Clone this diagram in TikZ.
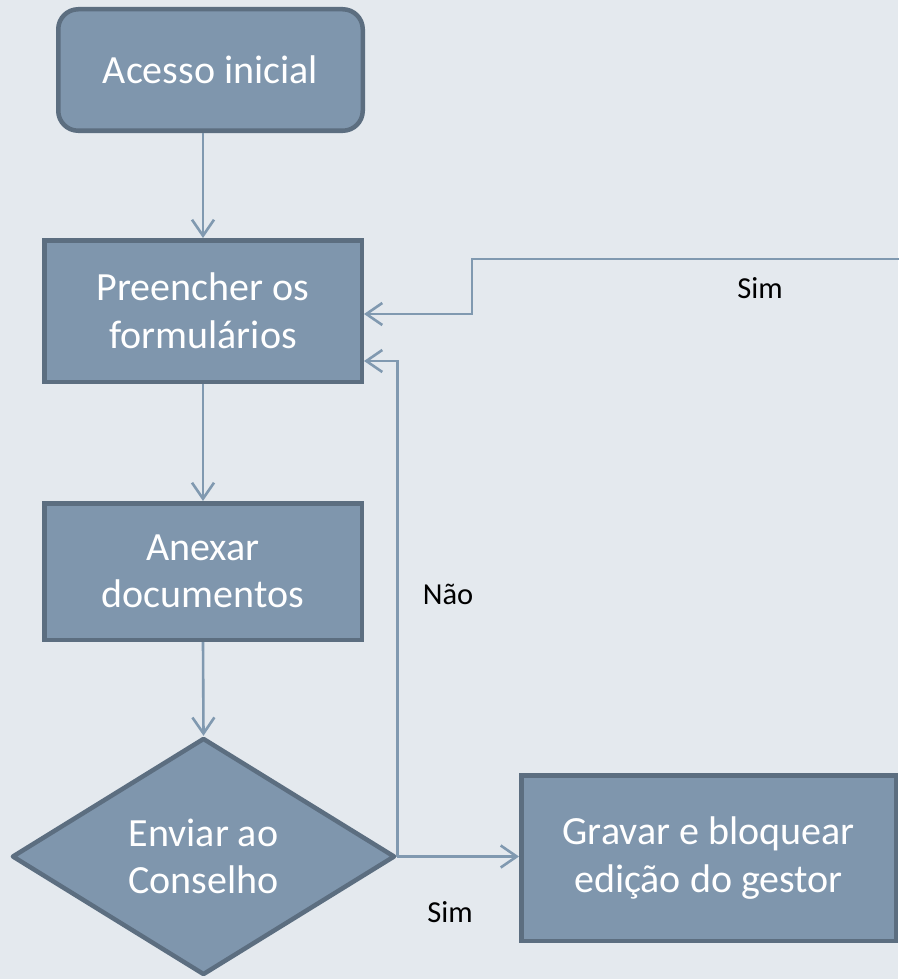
\documentclass[tikz,border=0pt]{standalone}
\usepackage{fontspec}
\setmainfont{Carlito}
\usetikzlibrary{arrows.meta,shapes.geometric,calc}
\definecolor{bgcol}{HTML}{E4E9EE}
\definecolor{boxfill}{HTML}{7F96AD}
\definecolor{boxline}{HTML}{5C6E80}
\definecolor{conncol}{HTML}{8099B0}
\begin{document}
\begin{tikzpicture}[x=1pt,y=-1pt,
  box/.style={draw=boxline, fill=boxfill, line width=4.5pt, text=white,
    font=\fontsize{40}{47.5}\selectfont, align=center, inner sep=0pt},
  link/.style={draw=conncol, line width=2.6pt,
    -{Straight Barb[length=16pt,width=22pt]}},
  lbl/.style={text=black, font=\fontsize{30.5}{36}\selectfont, inner sep=0pt}]
\fill[bgcol] (0,0) rectangle (898,979);
\useasboundingbox (0,0) rectangle (898,979);

\node[box, rounded corners=20pt, minimum width=304.5pt, minimum height=121.5pt]
  (acesso) at (210.5,70) {Acesso inicial};
\node[box, minimum width=317.5pt, minimum height=141.5pt]
  (pre) at (203,311) {Preencher os\\formulários};
\node[box, minimum width=317.5pt, minimum height=136.5pt]
  (anexar) at (203,571.5) {Anexar\\documentos};
\node[box, diamond, aspect=1.616, line join=round, minimum width=383pt, minimum height=237pt]
  (dec) at (203.5,856.5) {Enviar ao\\Conselho};
\node[box, minimum width=374.5pt, minimum height=165.5pt]
  (grav) at (708.5,858) {Gravar e bloquear\\edição do gestor};

\coordinate (simin) at (900,259);

\draw[link] (acesso.south -| pre.north) -- (pre.north);
\draw[link] (pre.south) -- (anexar.north);
\draw[link] (anexar.south) -- (dec.north);
\draw[link] (dec.east) -- (dec.east -| grav.west);
\draw[link] (dec.east) |- ($(pre.east)+(0,50)$);
\draw[link] (simin) -| ($(pre.east)+(108,3)$) -- ($(pre.east)+(0,3)$);

\node[lbl] (sim1) at (760,288) {Sim};
\node[lbl] (nao) at (448,594) {Não};
\node[lbl] (sim2) at (450,912) {Sim};
\end{tikzpicture}
\end{document}
